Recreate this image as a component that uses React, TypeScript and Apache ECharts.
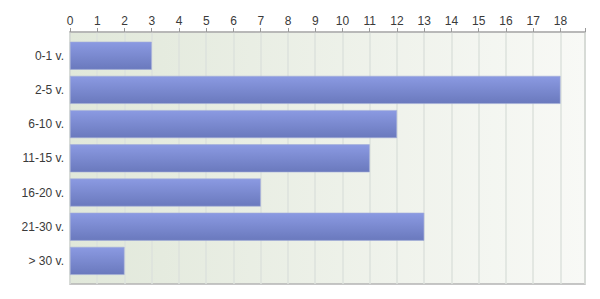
import React, { useEffect, useRef } from "react";
import * as echarts from "echarts";

const categories = ["0-1 v.", "2-5 v.", "6-10 v.", "11-15 v.", "16-20 v.", "21-30 v.", "> 30 v."];
const values = [3, 18, 12, 11, 7, 13, 2];
const axisMax = 18.9;

export default function App() {
  const ref = useRef<HTMLDivElement>(null);
  useEffect(() => {
    const chart = echarts.init(ref.current!, null, { renderer: "svg" });
    const font = "Liberation Sans, Arial, sans-serif";
    chart.setOption({
      animation: false,
      grid: [
        {
          left: 70, right: 15, top: 32, bottom: 15, show: true,
          backgroundColor: new echarts.graphic.LinearGradient(0, 0, 1, 0, [
            { offset: 0, color: "#e1e8da" },
            { offset: 1, color: "#f8f9f6" },
          ]),
          borderColor: "#b4b4b4", borderWidth: 1.5,
        },
        { left: 70, right: 15, top: 38.6, bottom: 21 },
      ],
      xAxis: [
        {
          gridIndex: 0, type: "value", position: "top", min: 0, max: axisMax, interval: 1,
          axisLine: { show: true, lineStyle: { color: "#b4b4b4", width: 1.5 } },
          axisTick: { show: true, length: 4, lineStyle: { color: "#999" } },
          axisLabel: {
            color: "#3a3a3a", fontFamily: font, fontSize: 12, margin: 5,
            formatter: (v: number) => (Number.isInteger(v) ? String(v) : ""),
          },
          splitLine: { show: true, lineStyle: { color: "#dde2dd", width: 1.5 } },
        },
        { gridIndex: 1, type: "value", min: 0, max: axisMax, show: false, splitLine: { show: false } },
      ],
      yAxis: [
        { gridIndex: 0, type: "category", data: categories, show: false },
        {
          gridIndex: 1, type: "category", data: categories, inverse: true,
          axisLine: { show: false }, axisTick: { show: false },
          axisLabel: { color: "#3a3a3a", fontFamily: font, fontSize: 12, margin: 6 },
        },
      ],
      series: [
        {
          type: "bar", xAxisIndex: 1, yAxisIndex: 1, data: values, barWidth: 28,
          itemStyle: {
            color: new echarts.graphic.LinearGradient(0, 0, 0, 1, [
              { offset: 0, color: "#8b9ae2" },
              { offset: 1, color: "#6a79bd" },
            ]),
            borderColor: "#a3acd8", borderWidth: 0.6,
          },
        },
      ],
    });
    return () => chart.dispose();
  }, []);
  return <div ref={ref} style={{ width: 600, height: 299, margin: -8 }} />;
}
